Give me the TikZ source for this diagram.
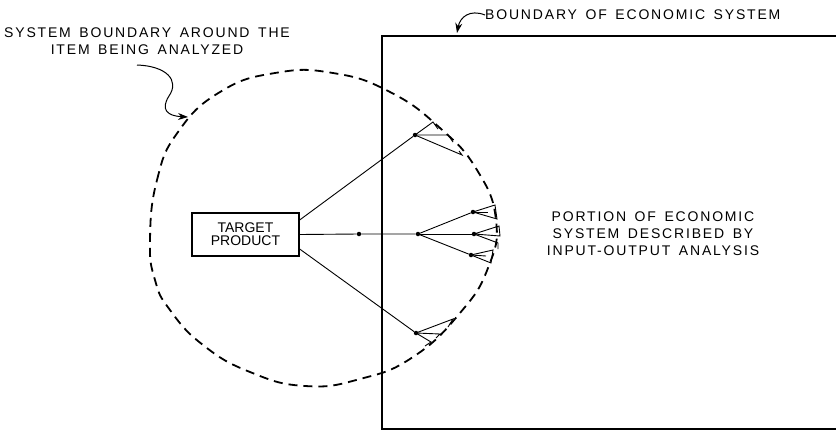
\documentclass[tikz,border=0pt]{standalone}
\usepackage{fontspec}
\setmainfont{Liberation Sans}
\newfontfamily\leroy[LetterSpace=13,WordSpace=1.5]{Liberation Sans}
\usetikzlibrary{arrows.meta}

\begin{document}
\begin{tikzpicture}[x=1pt,y=-1pt]
  \tikzset{
    lbl/.style={font=\leroy\fontsize{14}{17}\selectfont,align=center,inner sep=0pt},
    boxlbl/.style={font=\fontsize{14}{13}\selectfont,align=center,inner sep=0pt},
    target/.style={draw=black,line width=1.3pt,minimum width=107pt,minimum height=43pt},
    dot/.style={circle,fill=black,inner sep=0pt,minimum size=4.5pt},
    edge/.style={draw=black,line width=0.9pt},
    fan/.style={draw=black,line width=0.9pt,line join=miter},
    bound/.style={draw=black,line width=1.8pt,dash pattern=on 9pt off 6pt},
    frame/.style={draw=black,line width=1.3pt},
    pointer/.style={draw=black,line width=1pt,-{Stealth[length=10pt,width=7pt]}},
  }
  \useasboundingbox (0,0) rectangle (836,431);

  % economic system (runs off the right edge)
  \draw[frame] (836,36) -- (382,36) -- (382,429) -- (836,429);

  % system boundary around the item
  \draw[bound] plot[smooth cycle,tension=0.8] coordinates {
    (150,240) (157,180) (178,132) (220,92) (275,73) (333,73) (390,92)
    (440,128) (477,170) (496,220) (488,268) (460,313) (413,357) (360,379)
    (305,386) (250,372) (203,345) (170,310) (155,280)};

  % target product and its inputs
  \node[target] (tp) at (245.5,234.5) {};
  \node[boxlbl] (tplab) at (tp.center) {TARGET\\PRODUCT};
  \node[dot] (j0) at (359,234) {};
  \node[dot] (j1) at (418,234) {};
  \node[dot] (u) at (415,135) {};
  \node[dot] (l) at (416,333) {};
  \node[dot] (e1) at (473,212) {};
  \node[dot] (e2) at (474,234) {};
  \node[dot] (e3) at (471,255) {};

  \draw[edge] (tp.east) -- (j0) -- (j1);
  \draw[edge] (tp.15) -- (u);
  \draw[edge] (tp.-15) -- (l);
  \draw[edge] (j1) -- (e1);
  \draw[edge] (j1) -- (e2);
  \draw[edge] (j1) -- (e3);

  % fans at the leaves
  \draw[fan] (u.center) -- ++(18,-13) -- ++(5,7);
  \draw[fan] (u.center) -- ++(33,0) -- ++(5,7);
  \draw[fan] (u.center) -- ++(47,20) -- ++(-3,-4);
  \draw[fan] (l.center) -- ++(37,-14) -- ++(-5,8);
  \draw[fan] (l.center) -- ++(24,1) -- ++(-4,4);
  \draw[fan] (l.center) -- ++(15,9) -- ++(-6,4);
  \draw[fan] (e1.center) -- ++(22,-7) -- ++(2,14) -- cycle;
  \draw[fan] (e1.center) -- ++(15,0);
  \draw[fan] (e2.center) -- ++(25,-8) -- ++(1,10) -- cycle;
  \draw[fan] (e2.center) -- ++(24,9) -- ++(0,6);
  \draw[fan] (e3.center) -- ++(22,-5) -- ++(-2,13) -- cycle;
  \draw[fan] (e3.center) -- ++(15,1);

  % labels
  \node[lbl] (sbl) at (147,41.5) {SYSTEM BOUNDARY AROUND THE\\ITEM BEING ANALYZED};
  \node[lbl,anchor=west] (ebl) at (485,15) {BOUNDARY OF ECONOMIC SYSTEM};
  \node[lbl] (iol) at (653,234) {PORTION OF ECONOMIC\\SYSTEM DESCRIBED BY\\INPUT-OUTPUT ANALYSIS};

  \coordinate (sbtail) at (137,65);
  \coordinate (sbhead) at (188,117);
  \draw[pointer] (sbtail) .. controls (166,66) and (180,80) .. (169,96)
    .. controls (160,110) and (168,116) .. (sbhead);
  \coordinate (ebhead) at (457,33);
  \draw[pointer] (ebl.west) .. controls (470,9) and (460,17) .. (ebhead);
\end{tikzpicture}
\end{document}
